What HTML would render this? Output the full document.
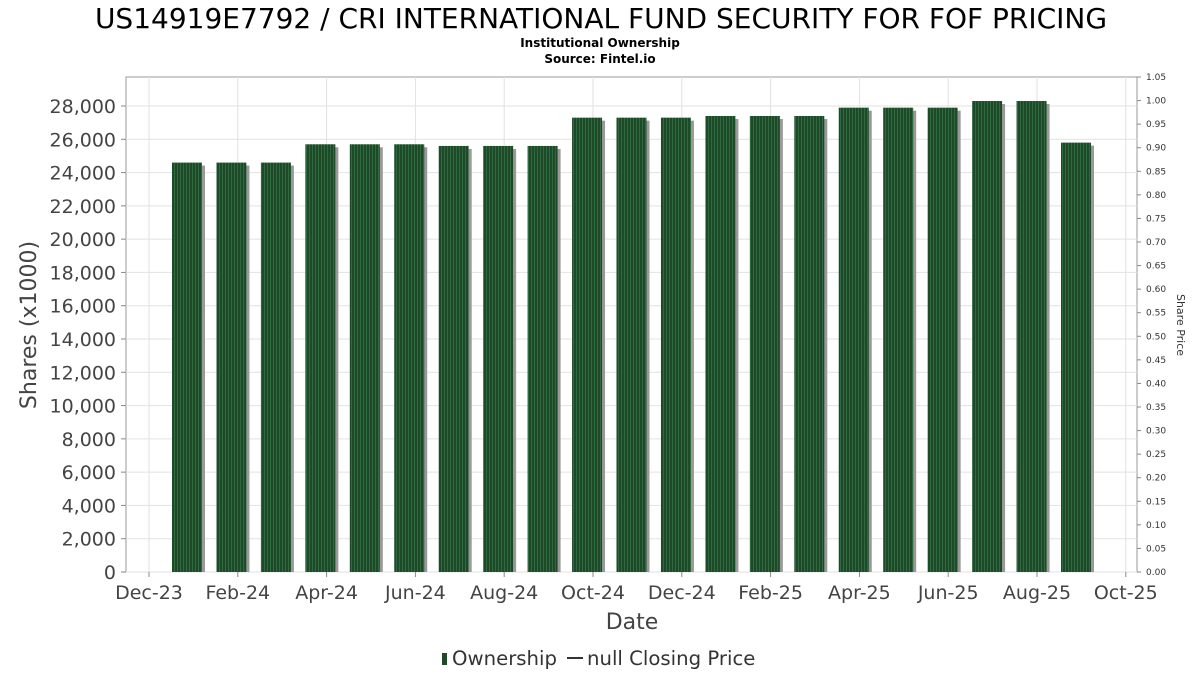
<!DOCTYPE html>
<html><head><meta charset="utf-8"><style>
body{margin:0;background:#fff;font-family:"DejaVu Sans","Liberation Sans",sans-serif}
svg text{font-family:"DejaVu Sans","Liberation Sans",sans-serif}
</style></head><body>
<svg id="c" width="1200" height="675" xmlns="http://www.w3.org/2000/svg">
<defs>
<pattern id="stripe" width="3" height="10" patternUnits="userSpaceOnUse">
<rect width="3" height="10" fill="#1e4a2a"/><rect width="1" height="10" fill="#2f6a3e"/>
</pattern>
</defs>
<text x="601" y="28" font-size="28" text-anchor="middle" fill="#000">US14919E7792 / CRI INTERNATIONAL FUND SECURITY FOR FOF PRICING</text>
<text x="600" y="47" font-size="12" font-weight="bold" text-anchor="middle">Institutional Ownership</text>
<text x="600" y="63" font-size="12" font-weight="bold" text-anchor="middle">Source: Fintel.io</text>
<rect x="126" y="77" width="1011" height="495" fill="#fff" stroke="#999"/>
<g id="grid"></g><g id="bars"></g><g id="axes"></g>
<text transform="translate(36,325) rotate(-90)" font-size="22" fill="#444" text-anchor="middle">Shares (x1000)</text>
<text transform="translate(1177,325) rotate(90)" font-size="11" fill="#333" text-anchor="middle">Share Price</text>
<text x="632" y="629" font-size="22" fill="#444" text-anchor="middle">Date</text>
<g>
<rect x="442" y="653" width="5" height="12" fill="#1e4a2a"/>
<text x="452" y="665" font-size="19.7" fill="#333">Ownership</text>
<line x1="567" y1="658" x2="583" y2="658" stroke="#333" stroke-width="2"/>
<text x="587" y="665" font-size="19.7" fill="#333">null Closing Price</text>
</g>
</svg>
<script>
const values=[24600,24600,24600,25700,25700,25700,25600,25600,25600,27300,27300,27300,27400,27400,27400,27900,27900,27900,28300,28300,25800];
const yTicks=[0,2000,4000,6000,8000,10000,12000,14000,16000,18000,20000,22000,24000,26000,28000];
const xLabels=["Dec-23","Feb-24","Apr-24","Jun-24","Aug-24","Oct-24","Dec-24","Feb-25","Apr-25","Jun-25","Aug-25","Oct-25"];
const y2Ticks=[0,0.05,0.1,0.15,0.2,0.25,0.3,0.35,0.4,0.45,0.5,0.55,0.6,0.65,0.7,0.75,0.8,0.85,0.9,0.95,1.0,1.05];
const NS="http://www.w3.org/2000/svg";
const y=v=>572-v*(466/28000);
const y2=v=>572-v*(495/1.05);
const xm=m=>149+m*44.4;
function mk(p,t,a){const e=document.createElementNS(NS,t);for(const k in a)e.setAttribute(k,a[k]);p.appendChild(e);return e;}
const G=document.getElementById('grid'),B=document.getElementById('bars'),A=document.getElementById('axes');
yTicks.forEach(v=>{
 const l=mk(G,'line',{x1:126,x2:1137,y1:y(v),y2:y(v),stroke:'#e2e2e2'});
 
 
 const t=mk(A,'text',{x:116,y:y(v)+7,'font-size':19,fill:'#444','text-anchor':'end'});t.textContent=v.toLocaleString('en-US');
 
 
 mk(A,'line',{x1:121,x2:126,y1:y(v),y2:y(v),stroke:'#888'});
});
xLabels.forEach((s,i)=>{
 const x=xm(i*2);
 const l=mk(G,'line',{x1:x,x2:x,y1:77,y2:572,stroke:'#e2e2e2'});
 
 
 mk(A,'line',{x1:x,x2:x,y1:572,y2:577,stroke:'#888'});
 const t=mk(A,'text',{x:x,y:599,'font-size':19,fill:'#444','text-anchor':'middle'});t.textContent=s;
 
 
});
y2Ticks.forEach(v=>{
 mk(A,'line',{x1:1137,x2:1141,y1:y2(v),y2:y2(v),stroke:'#888'});
 const t=mk(A,'text',{x:1146,y:y2(v)+3,'font-size':9,fill:'#333'});t.textContent=v.toFixed(2);
 
 
});
values.forEach((v,i)=>{
 const cx=187+i*44.45,w=30;
 const s=mk(B,'rect',{x:cx-w/2+3,y:y(v)+3,width:w,height:572-y(v)-3,fill:'#999'});
 
 
 const r=mk(B,'rect',{x:cx-w/2,y:y(v),width:w,height:572-y(v),fill:'url(#stripe)'});
 
 
});
</script>
</body></html>
